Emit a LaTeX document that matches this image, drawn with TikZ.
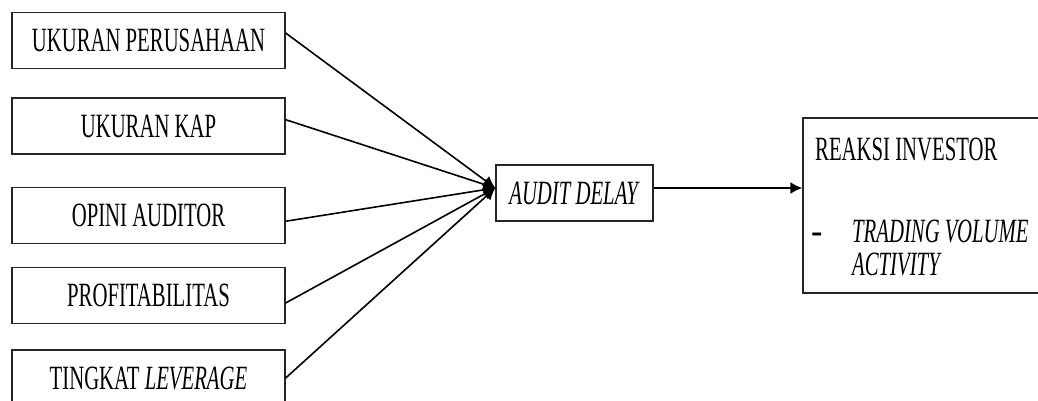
\documentclass[tikz,border=0pt]{standalone}
\usepackage{fontspec}
\usepackage{graphicx}
\setmainfont{Liberation Serif}
\usetikzlibrary{arrows.meta,calc}
% condensed Times-like lettering
\newcommand{\cond}[1]{\scalebox{0.61}[1]{#1}}
\begin{document}
\begin{tikzpicture}[x=1pt,y=-1pt,
  lbl/.style={font=\fontsize{34}{33}\selectfont, inner sep=0pt},
  box/.style={lbl, draw=black!85, line width=1.4pt, rectangle},
  srcbox/.style={box, minimum width=273pt, minimum height=56pt},
  arr/.style={line width=1.6pt, -{Latex[length=12pt,width=12pt]}}]
  \useasboundingbox (0,0) rectangle (1038,400);

  % independent variables
  \node[srcbox] (b1) at (148.5,40.5) {\cond{UKURAN PERUSAHAAN}};
  \node[srcbox] (b2) at (148.5,126) {\cond{UKURAN KAP}};
  \node[srcbox] (b3) at (148.5,215.5) {\cond{OPINI AUDITOR}};
  \node[srcbox] (b4) at (148.5,295.5) {\cond{PROFITABILITAS}};
  \node[srcbox] (b5) at (148.5,378) {\cond{TINGKAT \textit{LEVERAGE}}};

  % intervening variable
  \node[box, minimum width=157pt, minimum height=56pt] (audit) at (574.5,193) {\cond{\textit{AUDIT DELAY}}};

  % dependent variable
  \node[box, minimum width=257pt, minimum height=175pt] (react) at (931.5,205.5) {};
  \node[lbl, anchor=base west] (r1) at (815,160) {\cond{REAKSI INVESTOR}};
  \node[lbl, anchor=base west] (r2) at (811,242) {\textbf{-}};
  \node[lbl, anchor=base west] (r3) at (852,242) {\cond{\textit{TRADING VOLUME}}};
  \node[lbl, anchor=base west] (r4) at (852,275) {\cond{\textit{ACTIVITY}}};

  \coordinate (in) at ($(audit.west)+(0,-5)$);

  % connectors
  \draw[arr] ($(b1.north east)!0.37!(b1.south east)$) -- (in);
  \draw[arr] ($(b2.north east)!0.39!(b2.south east)$) -- (in);
  \draw[arr] ($(b3.north east)!0.60!(b3.south east)$) -- (in);
  \draw[arr] ($(b4.north east)!0.63!(b4.south east)$) -- (in);
  \draw[arr] ($(b5.north east)!0.50!(b5.south east)$) -- (in);
  \draw[arr] (audit.east |- in) -- (react.west |- in);
\end{tikzpicture}
\end{document}
